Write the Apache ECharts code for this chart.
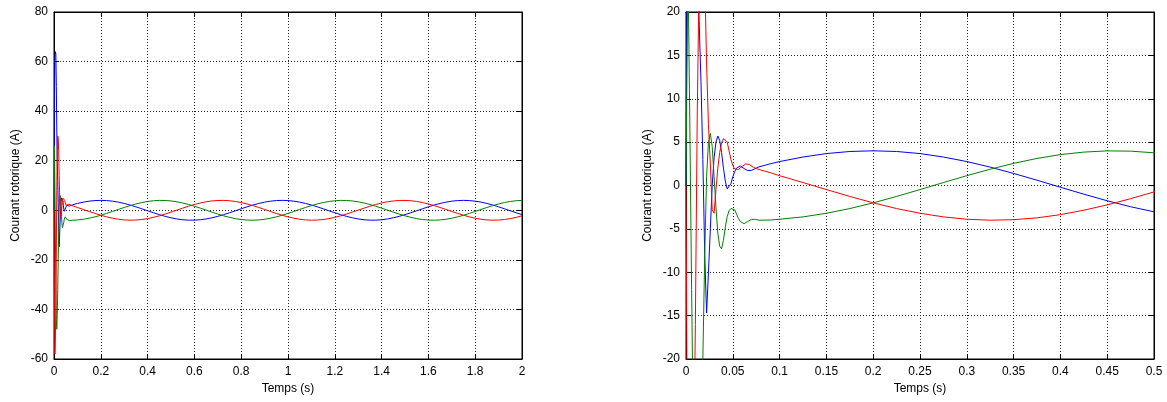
<!DOCTYPE html>
<html>
<head>
<meta charset="utf-8">
<script src="https://cdn.jsdelivr.net/npm/echarts@6/dist/echarts.min.js"></script>
<style>
  html, body { margin: 0; padding: 0; background: #fff; }
  #chart { width: 1167px; height: 402px; }
</style>
</head>
<body>
<div id="chart"></div>
<script>
// Temps de simulation (s): pas fin pendant le transitoire, puis pas de 25 ms
const temps = [
  0, 0.002, 0.004, 0.006, 0.008, 0.010, 0.012, 0.014, 0.016, 0.018,
  0.020, 0.022, 0.024, 0.026, 0.028, 0.030, 0.032, 0.034, 0.036, 0.038,
  0.040, 0.042, 0.044, 0.046, 0.048, 0.050, 0.052, 0.054, 0.056, 0.058,
  0.060, 0.062, 0.064, 0.066, 0.068, 0.070, 0.072, 0.074, 0.076, 0.078,
  0.080, 0.09,
  0.1, 0.125, 0.15, 0.175, 0.2, 0.225, 0.25, 0.275, 0.3, 0.325, 0.35, 0.375,
  0.4, 0.425, 0.45, 0.475, 0.5, 0.525, 0.55, 0.575, 0.6, 0.625, 0.65, 0.675,
  0.7, 0.725, 0.75, 0.775, 0.8, 0.825, 0.85, 0.875, 0.9, 0.925, 0.95, 0.975,
  1, 1.025, 1.05, 1.075, 1.1, 1.125, 1.15, 1.175, 1.2, 1.225, 1.25, 1.275,
  1.3, 1.325, 1.35, 1.375, 1.4, 1.425, 1.45, 1.475, 1.5, 1.525, 1.55, 1.575,
  1.6, 1.625, 1.65, 1.675, 1.7, 1.725, 1.75, 1.775, 1.8, 1.825, 1.85, 1.875,
  1.9, 1.925, 1.95, 1.975, 2
];

// Courant rotorique, phase a (bleu), en A
const iBleu = [
  0, 45, 62, 64, 63, 50, 32, 19, 12, 3,
  -8, -14.7, -10, -5, 0, 3.2, 5.0, 5.7, 5.2, 3.8,
  2.0, 0.5, -0.4, -0.5, 0.2, 1.0, 1.6, 2.0, 2.2, 2.25,
  2.15, 1.95, 1.8, 1.72, 1.7, 1.75, 1.85, 1.95, 2.05, 2.15,
  2.22, 2.5,
  2.76, 3.28, 3.68, 3.92, 4.00, 3.92, 3.68, 3.28, 2.76, 2.12, 1.39, 0.61,
  -0.20, -1.00, -1.76, -2.45, -3.03, -3.50, -3.82, -3.98, -3.98, -3.82, -3.50, -3.03,
  -2.45, -1.76, -1.00, -0.20, 0.61, 1.39, 2.12, 2.76, 3.28, 3.68, 3.92, 4.00,
  3.92, 3.68, 3.28, 2.76, 2.12, 1.39, 0.61, -0.20, -1.00, -1.76, -2.45, -3.03,
  -3.50, -3.82, -3.98, -3.98, -3.82, -3.50, -3.03, -2.45, -1.76, -1.00, -0.20, 0.61,
  1.39, 2.12, 2.76, 3.28, 3.68, 3.92, 4.00, 3.92, 3.68, 3.28, 2.76, 2.12,
  1.39, 0.61, -0.20, -1.00, -1.76
];

// Courant rotorique, phase b (vert), en A
const iVert = [
  0, 26, 8, -12, -30, -44, -48, -42, -32, -20,
  -8, 1, 5, 6.0, 4.5, 1.0, -2.5, -5.5, -7.0, -7.3,
  -6.3, -4.8, -3.6, -2.9, -2.65, -2.6, -2.8, -3.3, -3.8, -4.15,
  -4.35, -4.4, -4.3, -4.15, -4.0, -3.9, -3.88, -3.9, -3.95, -4.0,
  -4.0, -3.98,
  -3.89, -3.62, -3.20, -2.66, -2.00, -1.26, -0.47, 0.34, 1.13, 1.88, 2.55, 3.12,
  3.56, 3.85, 3.99, 3.96, 3.77, 3.43, 2.94, 2.34, 1.64, 0.87, 0.07, -0.74,
  -1.52, -2.23, -2.85, -3.36, -3.73, -3.94, -4.00, -3.89, -3.62, -3.20, -2.66, -2.00,
  -1.26, -0.47, 0.34, 1.13, 1.88, 2.55, 3.12, 3.56, 3.85, 3.99, 3.96, 3.77,
  3.43, 2.94, 2.34, 1.64, 0.87, 0.07, -0.74, -1.52, -2.23, -2.85, -3.36, -3.73,
  -3.94, -4.00, -3.89, -3.62, -3.20, -2.66, -2.00, -1.26, -0.47, 0.34, 1.13, 1.88,
  2.55, 3.12, 3.56, 3.85, 3.99
];

// Courant rotorique, phase c (rouge), en A
const iRouge = [
  0, -40, -58, -52, -35, -16, 8, 24, 30, 29,
  24, 14, 7, 2.5, -2.8, -3.2, -0.5, 2.0, 3.8, 4.9,
  5.4, 5.5, 5.0, 4.0, 3.0, 2.3, 1.9, 1.8, 1.85, 2.0,
  2.2, 2.4, 2.5, 2.5, 2.4, 2.25, 2.1, 2.0, 1.92, 1.85,
  1.78, 1.48,
  1.13, 0.34, -0.47, -1.26, -2.00, -2.66, -3.20, -3.62, -3.89, -4.00, -3.94, -3.73,
  -3.36, -2.85, -2.23, -1.52, -0.74, 0.07, 0.87, 1.64, 2.34, 2.94, 3.43, 3.77,
  3.96, 3.99, 3.85, 3.56, 3.12, 2.55, 1.88, 1.13, 0.34, -0.47, -1.26, -2.00,
  -2.66, -3.20, -3.62, -3.89, -4.00, -3.94, -3.73, -3.36, -2.85, -2.23, -1.52, -0.74,
  0.07, 0.87, 1.64, 2.34, 2.94, 3.43, 3.77, 3.96, 3.99, 3.85, 3.56, 3.12,
  2.55, 1.88, 1.13, 0.34, -0.47, -1.26, -2.00, -2.66, -3.20, -3.62, -3.89, -4.00,
  -3.94, -3.73, -3.36, -2.85, -2.23
];

// Bornes des deux vues: vue complète et zoom sur le démarrage
const vueX = [{ min: 0, max: 2, interval: 0.2 }, { min: 0, max: 0.5, interval: 0.05 }];
const vueY = [{ min: -60, max: 80, interval: 20 }, { min: -20, max: 20, interval: 5 }];

const titreX = 'Temps (s)';
const titreY = 'Courant rotorique (A)';

const police = { fontFamily: '"Liberation Sans", Arial, sans-serif', fontSize: 12, color: '#000' };
const pointilles = { show: true, lineStyle: { color: '#222', type: [1, 2], width: 1 } };
const traits = { show: true, inside: true, length: 5, lineStyle: { color: '#000', width: 1 } };
const cadre = { show: true, onZero: false, lineStyle: { color: '#000', width: 1 } };

const grids = [
  { left: 54, top: 12, width: 468, height: 347 },
  { left: 686, top: 12, width: 468, height: 347 }
].map(g => Object.assign(g, { show: true, borderColor: '#000', borderWidth: 1, backgroundColor: '#fff' }));

const xAxis = [];
const yAxis = [];
vueX.forEach((v, k) => {
  xAxis.push({
    type: 'value', gridIndex: k, position: 'bottom', min: v.min, max: v.max, interval: v.interval,
    name: titreX, nameLocation: 'middle', nameGap: 21, nameTextStyle: police,
    axisLine: cadre, axisTick: traits, splitLine: pointilles,
    axisLabel: Object.assign({ margin: 7 }, police)
  });
  xAxis.push({
    type: 'value', gridIndex: k, position: 'top', min: v.min, max: v.max, interval: v.interval,
    axisLine: cadre, axisTick: traits, splitLine: { show: false }, axisLabel: { show: false }
  });
});
vueY.forEach((v, k) => {
  yAxis.push({
    type: 'value', gridIndex: k, position: 'left', min: v.min, max: v.max, interval: v.interval,
    name: titreY, nameLocation: 'middle', nameGap: 32, nameRotate: 90, nameTextStyle: police,
    axisLine: cadre, axisTick: traits, splitLine: pointilles,
    axisLabel: Object.assign({ margin: 6 }, police)
  });
  yAxis.push({
    type: 'value', gridIndex: k, position: 'right', min: v.min, max: v.max, interval: v.interval,
    axisLine: cadre, axisTick: traits, splitLine: { show: false }, axisLabel: { show: false }
  });
});

const phases = [
  { valeurs: iBleu, couleur: '#0000ff' },
  { valeurs: iVert, couleur: '#008000' },
  { valeurs: iRouge, couleur: '#ff0000' }
];

const series = [];
[0, 1].forEach(k => {
  phases.forEach(p => {
    series.push({
      type: 'line', xAxisIndex: 2 * k, yAxisIndex: 2 * k,
      data: temps.map((t, i) => [t, p.valeurs[i]]),
      showSymbol: false, clip: true,
      lineStyle: { color: p.couleur, width: 1 },
      itemStyle: { color: p.couleur }
    });
  });
});

const chart = echarts.init(document.getElementById('chart'), null, { renderer: 'canvas' });
chart.setOption({
  backgroundColor: '#fff',
  animation: false,
  textStyle: police,
  grid: grids,
  xAxis: xAxis,
  yAxis: yAxis,
  series: series
});
</script>
</body>
</html>
